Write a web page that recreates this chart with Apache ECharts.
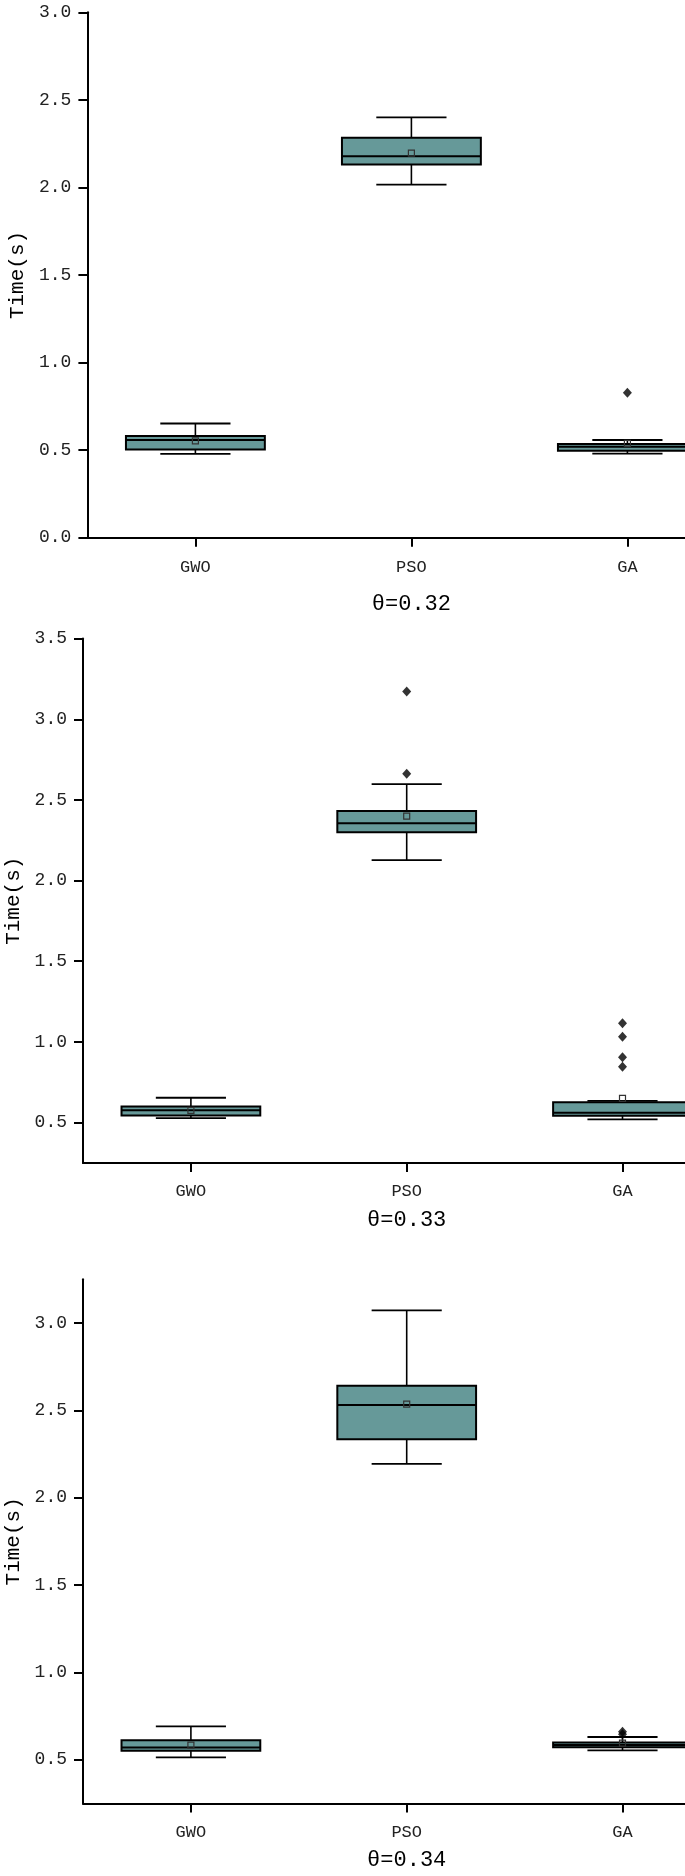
<!DOCTYPE html>
<html>
<head>
<meta charset="utf-8">
<script src="https://cdn.jsdelivr.net/npm/echarts@6/dist/echarts.min.js"></script>
<style>
html,body{margin:0;padding:0;background:#fff;}
#main{width:685px;height:1876px;}
</style>
</head>
<body>
<div id="main"></div>
<script>
const categories = ['GWO', 'PSO', 'GA'];
const panelTitles = ['θ=0.32', 'θ=0.33', 'θ=0.34'];
const yName = 'Time(s)';

// each row: [whiskerLow, Q1, median, Q3, whiskerHigh, mean]
const box032 = [[0.479, 0.503, 0.558, 0.580, 0.652, 0.553],
                [2.016, 2.131, 2.178, 2.284, 2.400, 2.196],
                [0.480, 0.497, 0.520, 0.535, 0.558, 0.539]];
const out032 = [['GA', 0.828]];

const box033 = [[0.527, 0.544, 0.576, 0.600, 0.654, 0.576],
                [2.127, 2.299, 2.355, 2.431, 2.598, 2.400],
                [0.520, 0.543, 0.561, 0.626, 0.634, 0.650]];
const out033 = [['PSO', 3.172], ['PSO', 2.662], ['GA', 1.115], ['GA', 1.032], ['GA', 0.905], ['GA', 0.846]];

const box034 = [[0.514, 0.551, 0.570, 0.612, 0.691, 0.584],
                [2.194, 2.335, 2.531, 2.640, 3.072, 2.535],
                [0.553, 0.572, 0.584, 0.598, 0.630, 0.595]];
const out034 = [['GA', 0.660], ['GA', 0.646]];

// axis ranges and tick values
const yRanges = [[0, 3.0], [0.25, 3.5], [0.25, 3.25]];
const majorTicks032 = [0, 0.5, 1.0, 1.5, 2.0, 2.5, 3.0];
const minorTicks032 = [0.25, 0.75, 1.25, 1.75, 2.25, 2.75];
const majorTicks033 = [0.5, 1.0, 1.5, 2.0, 2.5, 3.0, 3.5];
const minorTicks033 = [0.25, 0.75, 1.25, 1.75, 2.25, 2.75, 3.25];
const majorTicks034 = [0.5, 1.0, 1.5, 2.0, 2.5, 3.0];
const minorTicks034 = [0.25, 0.75, 1.25, 1.75, 2.25, 2.75, 3.25];

const boxes = [box032, box033, box034];
const outliers = [out032, out033, out034];
const majors = [majorTicks032, majorTicks033, majorTicks034];
const minors = [minorTicks032, minorTicks033, minorTicks034];

const FONT = '"Liberation Mono", "DejaVu Sans Mono", monospace';
const FILL = '#669999';

const grids = [
  {left: 87.4, right: -50.4, top: 12.3, bottom: 1876 - 537.7, outerBoundsMode: 'none', containLabel: false},
  {left: 83, right: -45.4, top: 638.6, bottom: 1876 - 1162.9, outerBoundsMode: 'none', containLabel: false},
  {left: 83, right: -45.4, top: 1279.3, bottom: 1876 - 1803.4, outerBoundsMode: 'none', containLabel: false}
];
const titleGaps = [55, 46, 46];
const labelMargins = [21, 20, 21];

function renderBox(params, api) {
  const c = api.value(0);
  const lo = api.coord([c, api.value(1)]);
  const q1 = api.coord([c, api.value(2)]);
  const md = api.coord([c, api.value(3)]);
  const q3 = api.coord([c, api.value(4)]);
  const hi = api.coord([c, api.value(5)]);
  const mn = api.coord([c, api.value(6)]);
  const band = api.size([1, 0])[0];
  const bw = band * 0.643;
  const cw = band * 0.325;
  const cx = lo[0];
  const line = (x1, y1, x2, y2, w) => ({
    type: 'line', shape: {x1, y1, x2, y2},
    style: {stroke: '#000', lineWidth: w}
  });
  const ms = 6;
  return {
    type: 'group',
    children: [
      line(cx, hi[1], cx, q3[1], 1.6),
      line(cx, q1[1], cx, lo[1], 1.6),
      line(cx - cw / 2, hi[1], cx + cw / 2, hi[1], 1.8),
      line(cx - cw / 2, lo[1], cx + cw / 2, lo[1], 1.8),
      {type: 'rect', shape: {x: cx - bw / 2, y: q3[1], width: bw, height: q1[1] - q3[1]},
       style: {fill: FILL, stroke: '#000', lineWidth: 2}},
      line(cx - bw / 2, md[1], cx + bw / 2, md[1], 2),
      {type: 'rect', shape: {x: cx - ms / 2, y: mn[1] - ms / 2, width: ms, height: ms},
       style: {fill: 'none', stroke: '#333', lineWidth: 1.2}}
    ]
  };
}

const option = {
  backgroundColor: '#fff',
  animation: false,
  grid: grids,
  xAxis: grids.map((g, i) => ({
    type: 'category', gridIndex: i, data: categories,
    name: panelTitles[i], nameLocation: 'middle', nameGap: titleGaps[i],
    nameTextStyle: {fontFamily: FONT, fontSize: 22, color: '#000'},
    axisLine: {show: true, lineStyle: {color: '#000', width: 2}},
    axisTick: {show: true, alignWithLabel: true, length: 9, lineStyle: {color: '#000', width: 2}},
    axisLabel: {fontFamily: FONT, fontSize: 17, color: '#222', margin: labelMargins[i]},
    splitLine: {show: false}
  })),
  yAxis: [],
  series: []
};

for (let i = 0; i < 3; i++) {
  option.yAxis.push({
    type: 'value', gridIndex: i, min: yRanges[i][0], max: yRanges[i][1],
    name: yName, nameLocation: 'middle', nameGap: 57,
    nameTextStyle: {fontFamily: FONT, fontSize: 21, color: '#000'},
    axisLine: {show: true, lineStyle: {color: '#000', width: 2}},
    axisTick: {show: true, customValues: majors[i], length: 9, lineStyle: {color: '#000', width: 2}},
    axisLabel: {customValues: majors[i], formatter: v => Number(v).toFixed(1),
                fontFamily: FONT, fontSize: 18, color: '#222', margin: 16},
    splitLine: {show: false}
  });
  option.yAxis.push({
    type: 'value', gridIndex: i, min: yRanges[i][0], max: yRanges[i][1],
    axisLine: {show: false},
    axisTick: {show: true, customValues: minors[i], length: 5, lineStyle: {color: '#000', width: 2}},
    axisLabel: {show: false},
    splitLine: {show: false}
  });
  option.series.push({
    type: 'custom', xAxisIndex: i, yAxisIndex: 2 * i,
    renderItem: renderBox,
    encode: {x: 0, y: [1, 2, 3, 4, 5, 6]},
    data: boxes[i].map((r, k) => [k].concat(r)),
    z: 2
  });
  option.series.push({
    type: 'scatter', xAxisIndex: i, yAxisIndex: 2 * i,
    symbol: 'diamond', symbolSize: [9, 10],
    itemStyle: {color: '#000'},
    data: outliers[i],
    z: 3
  });
}

const chart = echarts.init(document.getElementById('main'), null, {renderer: 'canvas'});
chart.setOption(option);
</script>
</body>
</html>
